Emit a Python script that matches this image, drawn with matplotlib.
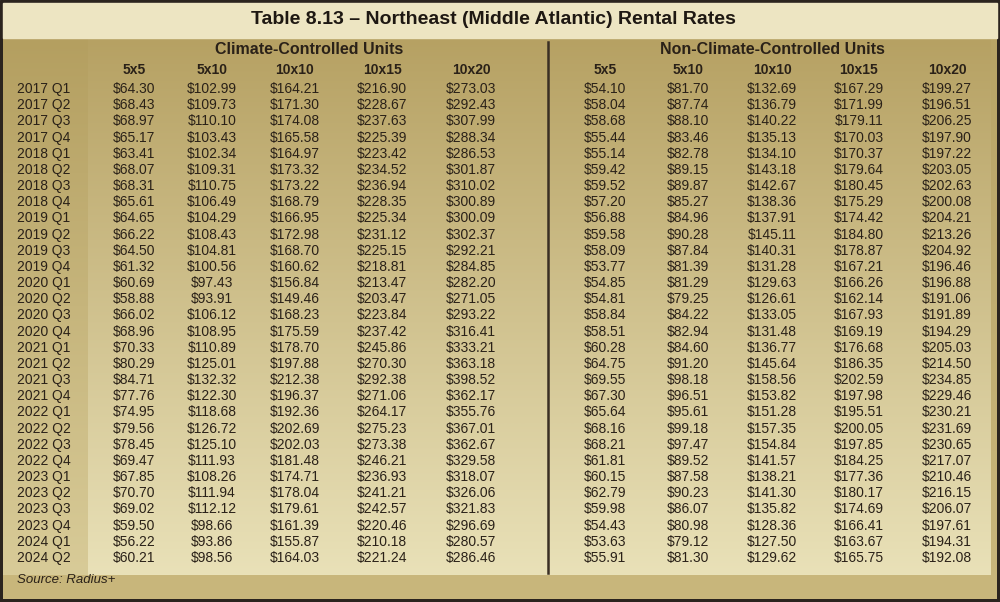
import matplotlib
matplotlib.use("Agg")
import matplotlib.pyplot as plt
import numpy as np
from matplotlib.colors import LinearSegmentedColormap

title = "Table 8.13 – Northeast (Middle Atlantic) Rental Rates"
groups = ["Climate-Controlled Units", "Non-Climate-Controlled Units"]
sizes = ["5x5", "5x10", "10x10", "10x15", "10x20"]
quarters = [f"{y} Q{q}" for y in range(2017, 2025) for q in range(1, 5)][:30]

cc_5x5 = [64.30,68.43,68.97,65.17,63.41,68.07,68.31,65.61,64.65,66.22,64.50,61.32,60.69,58.88,66.02,68.96,70.33,80.29,84.71,77.76,74.95,79.56,78.45,69.47,67.85,70.70,69.02,59.50,56.22,60.21]
cc_5x10 = [102.99,109.73,110.10,103.43,102.34,109.31,110.75,106.49,104.29,108.43,104.81,100.56,97.43,93.91,106.12,108.95,110.89,125.01,132.32,122.30,118.68,126.72,125.10,111.93,108.26,111.94,112.12,98.66,93.86,98.56]
cc_10x10 = [164.21,171.30,174.08,165.58,164.97,173.32,173.22,168.79,166.95,172.98,168.70,160.62,156.84,149.46,168.23,175.59,178.70,197.88,212.38,196.37,192.36,202.69,202.03,181.48,174.71,178.04,179.61,161.39,155.87,164.03]
cc_10x15 = [216.90,228.67,237.63,225.39,223.42,234.52,236.94,228.35,225.34,231.12,225.15,218.81,213.47,203.47,223.84,237.42,245.86,270.30,292.38,271.06,264.17,275.23,273.38,246.21,236.93,241.21,242.57,220.46,210.18,221.24]
cc_10x20 = [273.03,292.43,307.99,288.34,286.53,301.87,310.02,300.89,300.09,302.37,292.21,284.85,282.20,271.05,293.22,316.41,333.21,363.18,398.52,362.17,355.76,367.01,362.67,329.58,318.07,326.06,321.83,296.69,280.57,286.46]
ncc_5x5 = [54.10,58.04,58.68,55.44,55.14,59.42,59.52,57.20,56.88,59.58,58.09,53.77,54.85,54.81,58.84,58.51,60.28,64.75,69.55,67.30,65.64,68.16,68.21,61.81,60.15,62.79,59.98,54.43,53.63,55.91]
ncc_5x10 = [81.70,87.74,88.10,83.46,82.78,89.15,89.87,85.27,84.96,90.28,87.84,81.39,81.29,79.25,84.22,82.94,84.60,91.20,98.18,96.51,95.61,99.18,97.47,89.52,87.58,90.23,86.07,80.98,79.12,81.30]
ncc_10x10 = [132.69,136.79,140.22,135.13,134.10,143.18,142.67,138.36,137.91,145.11,140.31,131.28,129.63,126.61,133.05,131.48,136.77,145.64,158.56,153.82,151.28,157.35,154.84,141.57,138.21,141.30,135.82,128.36,127.50,129.62]
ncc_10x15 = [167.29,171.99,179.11,170.03,170.37,179.64,180.45,175.29,174.42,184.80,178.87,167.21,166.26,162.14,167.93,169.19,176.68,186.35,202.59,197.98,195.51,200.05,197.85,184.25,177.36,180.17,174.69,166.41,163.67,165.75]
ncc_10x20 = [199.27,196.51,206.25,197.90,197.22,203.05,202.63,200.08,204.21,213.26,204.92,196.46,196.88,191.06,191.89,194.29,205.03,214.50,234.85,229.46,230.21,231.69,230.65,217.07,210.46,216.15,206.07,197.61,194.31,192.08]
source = "Source: Radius+"

cols = [cc_5x5, cc_5x10, cc_10x10, cc_10x15, cc_10x20, ncc_5x5, ncc_5x10, ncc_10x10, ncc_10x15, ncc_10x20]

W, H = 1000, 602
fig = plt.figure(figsize=(10, 6.02), dpi=100)
ax = fig.add_axes([0, 0, 1, 1])
ax.set_xlim(0, W); ax.set_ylim(H, 0); ax.axis("off")

FONT = ["Liberation Sans Narrow", "Liberation Sans", "DejaVu Sans"]
TXT = "#2a2118"

def grad(x0, x1, y0, y1, c0, c1, z=0):
    cm = LinearSegmentedColormap.from_list("g", [c0, c1])
    g = np.linspace(0, 1, 256).reshape(-1, 1)
    ax.imshow(g, cmap=cm, extent=(x0, x1, y1, y0), aspect="auto", zorder=z, interpolation="bilinear")

ax.add_patch(plt.Rectangle((0, 0), W, H, color="#2b241e", zorder=-2))
grad(3, 997, 38, 599, "#b8a466", "#c9b77c", z=-1)
grad(3, 88, 38, 575, "#b49f60", "#d8cb98", z=0)
grad(88, 991, 38, 575, "#b6a163", "#e9e1b8", z=0)
ax.add_patch(plt.Rectangle((3, 3), 994, 35, color="#ede5c2", zorder=1))
ax.set_xlim(0, W); ax.set_ylim(H, 0)

ax.text(493, 20, title, ha="center", va="center", fontsize=14, fontweight="bold", family=FONT, color="#1e1812", zorder=3)
ax.plot([548, 548], [42, 573], color="#3a2f24", lw=1.8, zorder=3)

xs = [134, 212, 295, 382, 471, 605, 688, 772, 859, 947]
ax.text(309, 50, groups[0], ha="center", va="center", fontsize=11.5, fontweight="bold", family=FONT, color=TXT, zorder=3)
ax.text(772, 50, groups[1], ha="center", va="center", fontsize=11.5, fontweight="bold", family=FONT, color=TXT, zorder=3)
for i, x in enumerate(xs):
    ax.text(x, 70, sizes[i % 5], ha="center", va="center", fontsize=10, fontweight="bold", family=FONT, color=TXT, zorder=3)

y0, dy = 89, (558 - 89) / 29
for r, q in enumerate(quarters):
    y = y0 + r * dy
    ax.text(17, y, q, ha="left", va="center", fontsize=10, family=FONT, color=TXT, zorder=3)
    for x, col in zip(xs, cols):
        ax.text(x, y, f"${col[r]:.2f}", ha="center", va="center", fontsize=10, family=FONT, color=TXT, zorder=3)

ax.text(17, 580, source, ha="left", va="center", fontsize=9.5, style="italic", family=FONT, color=TXT, zorder=3)

fig.savefig("out.png", dpi=100)
